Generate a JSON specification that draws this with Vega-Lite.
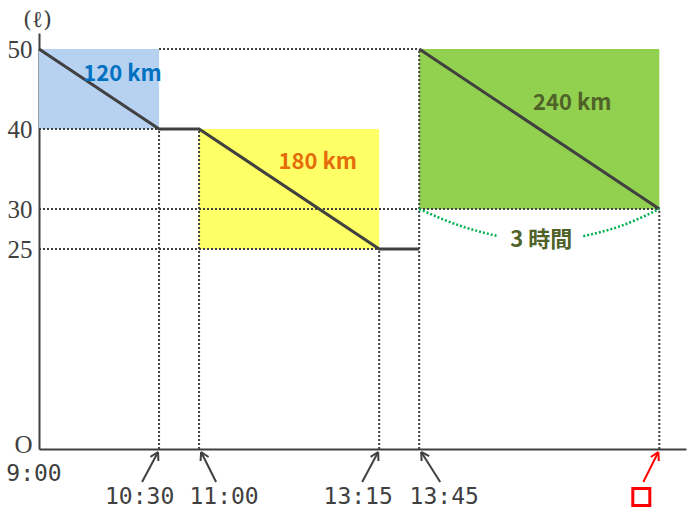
{
  "$schema": "https://vega.github.io/schema/vega-lite/v6.json",
  "width": 647,
  "height": 416,
  "autosize": {"type": "none"},
  "padding": {"left": 39, "top": 33, "right": 4, "bottom": 67},
  "background": "white",
  "config": {"view": {"stroke": null}, "font": "Noto Sans CJK JP"},
  "datasets": {
    "rects": [
      {"x": 0, "x2": 90, "y": 40, "y2": 50, "region": "a"},
      {"x": 120, "x2": 255, "y": 25, "y2": 40, "region": "b"},
      {"x": 285, "x2": 465, "y": 30, "y2": 50, "region": "c"}
    ],
    "guides": [
      {"x": 90, "x2": 285, "y": 50, "y2": 50},
      {"x": 0, "x2": 120, "y": 40, "y2": 40},
      {"x": 0, "x2": 465, "y": 30, "y2": 30},
      {"x": 0, "x2": 255, "y": 25, "y2": 25},
      {"x": 90, "x2": 90, "y": 0, "y2": 40},
      {"x": 120, "x2": 120, "y": 0, "y2": 40},
      {"x": 255, "x2": 255, "y": 0, "y2": 25},
      {"x": 285, "x2": 285, "y": 0, "y2": 50},
      {"x": 465, "x2": 465, "y": 0, "y2": 30}
    ],
    "fuel": [
      {"seg": 1, "x": 0, "y": 50},
      {"seg": 1, "x": 90, "y": 40},
      {"seg": 1, "x": 120, "y": 40},
      {"seg": 1, "x": 255, "y": 25},
      {"seg": 1, "x": 285, "y": 25},
      {"seg": 2, "x": 285, "y": 50},
      {"seg": 2, "x": 465, "y": 30}
    ],
    "brace": [
      {"seg": 1, "x": 285, "y": 30},
      {"seg": 1, "x": 315.75, "y": 27.9},
      {"seg": 1, "x": 344.25, "y": 26.6},
      {"seg": 2, "x": 408, "y": 26.6},
      {"seg": 2, "x": 436.5, "y": 27.9},
      {"seg": 2, "x": 465, "y": 30}
    ],
    "arrows": [
      {"x": 77.25, "y": -4.125, "x2": 89.25, "y2": -0.375, "kind": "given"},
      {"x": 83.55, "y": -0.975, "x2": 89.25, "y2": -0.375, "kind": "given"},
      {"x": 89.475, "y": -1.5, "x2": 89.25, "y2": -0.375, "kind": "given"},
      {"x": 132.75, "y": -4.125, "x2": 121.5, "y2": -0.375, "kind": "given"},
      {"x": 121.125, "y": -1.5, "x2": 121.5, "y2": -0.375, "kind": "given"},
      {"x": 127.125, "y": -1.0, "x2": 121.5, "y2": -0.375, "kind": "given"},
      {"x": 242.25, "y": -4.125, "x2": 254.25, "y2": -0.375, "kind": "given"},
      {"x": 248.55, "y": -0.975, "x2": 254.25, "y2": -0.375, "kind": "given"},
      {"x": 254.475, "y": -1.5, "x2": 254.25, "y2": -0.375, "kind": "given"},
      {"x": 300.75, "y": -4.125, "x2": 286.5, "y2": -0.375, "kind": "given"},
      {"x": 286.8, "y": -1.5, "x2": 286.5, "y2": -0.375, "kind": "given"},
      {"x": 292.5, "y": -0.9, "x2": 286.5, "y2": -0.375, "kind": "given"},
      {"x": 453, "y": -4.125, "x2": 464.25, "y2": -0.375, "kind": "unknown"},
      {"x": 458.625, "y": -1.0, "x2": 464.25, "y2": -0.375, "kind": "unknown"},
      {"x": 464.625, "y": -1.5, "x2": 464.25, "y2": -0.375, "kind": "unknown"}
    ],
    "notes": [
      {"label": "120 km", "x": 62.6, "y": 46.9, "grp": "a"},
      {"label": "180 km", "x": 208.9, "y": 35.9, "grp": "b"},
      {"label": "240 km", "x": 399.75, "y": 43.25, "grp": "c"},
      {"label": "3 時間", "x": 376.5, "y": 26.1, "grp": "c"}
    ],
    "times": [
      {"label": "9:00", "x": -3.75, "y": -3.125},
      {"label": "10:30", "x": 75.45, "y": -6},
      {"label": "11:00", "x": 138.75, "y": -6},
      {"label": "13:15", "x": 239.25, "y": -6},
      {"label": "13:45", "x": 303.75, "y": -6}
    ],
    "box": [{"x": 451.5, "y": -6}]
  },
  "encoding": {
    "x": {
      "field": "x",
      "type": "quantitative",
      "scale": {"domain": [0, 485], "nice": false, "zero": false},
      "axis": {
        "labels": false,
        "ticks": false,
        "grid": false,
        "domainColor": "#404040",
        "domainWidth": 2,
        "title": null
      }
    },
    "y": {
      "field": "y",
      "type": "quantitative",
      "scale": {"domain": [0, 52], "nice": false, "zero": false},
      "axis": {
        "values": [0, 25, 30, 40, 50],
        "labelExpr": "datum.value == 0 ? 'O' : datum.label",
        "labelOffset": {"condition": {"test": "datum.value == 0", "value": -5}, "value": 0},
        "ticks": false,
        "grid": false,
        "domainColor": "#404040",
        "domainWidth": 2,
        "labelFont": "Liberation Serif",
        "labelFontSize": 25,
        "labelColor": "#404040",
        "labelPadding": 7,
        "title": "(ℓ)",
        "titleAngle": 0,
        "titleFont": "DejaVu Serif",
        "titleFontSize": 23,
        "titleFontWeight": "normal",
        "titleColor": "#404040",
        "titleX": -2,
        "titleY": -14,
        "titleAlign": "center",
        "titleBaseline": "middle"
      }
    }
  },
  "resolve": {"scale": {"color": "independent", "stroke": "independent"}},
  "layer": [
    {
      "data": {"name": "rects"},
      "mark": {"type": "rect"},
      "encoding": {
        "x2": {"field": "x2"},
        "y2": {"field": "y2"},
        "color": {
          "field": "region",
          "type": "nominal",
          "scale": {"domain": ["a", "b", "c"], "range": ["#B7D1F1", "#FFFF66", "#92D050"]},
          "legend": null
        }
      }
    },
    {
      "data": {"name": "guides"},
      "mark": {"type": "rule", "color": "#404040", "strokeWidth": 2, "strokeDash": [2, 2]},
      "encoding": {"x2": {"field": "x2"}, "y2": {"field": "y2"}}
    },
    {
      "data": {"name": "fuel"},
      "mark": {"type": "line", "color": "#404040", "strokeWidth": 3},
      "encoding": {"detail": {"field": "seg", "type": "nominal"}}
    },
    {
      "data": {"name": "brace"},
      "mark": {"type": "line", "color": "#00B050", "strokeWidth": 2.5, "strokeDash": [2, 2], "interpolate": "monotone"},
      "encoding": {"detail": {"field": "seg", "type": "nominal"}}
    },
    {
      "data": {"name": "notes"},
      "mark": {"type": "text", "font": "Noto Sans CJK JP", "fontSize": 22, "fontWeight": "bold", "align": "center", "baseline": "middle"},
      "encoding": {
        "text": {"field": "label"},
        "color": {
          "field": "grp",
          "type": "nominal",
          "scale": {"domain": ["a", "b", "c"], "range": ["#0070C0", "#E46C0A", "#4F6228"]},
          "legend": null
        }
      }
    },
    {
      "data": {"name": "arrows"},
      "mark": {"type": "rule", "strokeWidth": 2},
      "encoding": {
        "x2": {"field": "x2"},
        "y2": {"field": "y2"},
        "stroke": {
          "field": "kind",
          "type": "nominal",
          "scale": {"domain": ["given", "unknown"], "range": ["#404040", "#FF0000"]},
          "legend": null
        }
      }
    },
    {
      "data": {"name": "times"},
      "mark": {"type": "text", "font": "DejaVu Sans Mono", "fontSize": 23, "color": "#404040", "align": "center", "baseline": "middle"},
      "encoding": {"text": {"field": "label"}}
    },
    {
      "data": {"name": "box"},
      "mark": {"type": "point", "shape": "square", "size": 289, "filled": false, "color": "#FF0000", "strokeWidth": 3, "opacity": 1}
    }
  ]
}
